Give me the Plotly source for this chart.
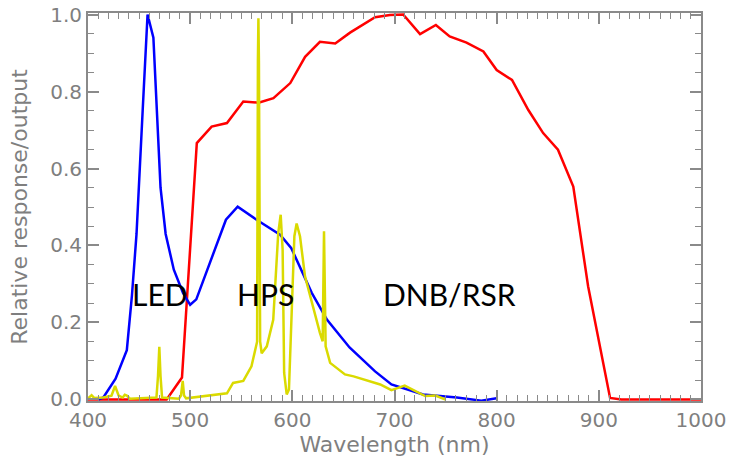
import plotly.graph_objects as go

# LED spectrum (blue)
led_wl = [410, 415, 427, 438, 443, 447.5, 453.5, 458.3, 464, 471, 476, 484, 493, 500, 506, 519, 535, 546.5,
          565, 588, 599, 619, 634, 656, 681, 697, 728, 761, 785, 800]
led_val = [0.0, 0.005, 0.054, 0.128, 0.27, 0.43, 0.75, 1.0, 0.94, 0.55, 0.43, 0.337, 0.277, 0.246, 0.26,
           0.355, 0.467, 0.501, 0.467, 0.428, 0.393, 0.277, 0.207, 0.135, 0.073, 0.039, 0.013, 0.005, -0.003, 0.003]

# DNB/RSR response (red)
dnb_wl = [400, 477, 492, 506.5, 521, 536, 552, 567, 581.5, 598, 612.5, 627, 642, 656.5, 681, 695.5, 708.5,
          725, 740.5, 754, 770.5, 787, 800, 815, 831, 845.5, 860, 875, 889.5, 911, 922, 1000]
dnb_val = [0.0, 0.0, 0.057, 0.666, 0.709, 0.718, 0.774, 0.771, 0.783, 0.822, 0.89, 0.929, 0.925, 0.953, 0.993,
           0.999, 1.0, 0.949, 0.973, 0.943, 0.927, 0.904, 0.856, 0.83, 0.752, 0.692, 0.649, 0.553, 0.294, 0.004,
           0.0, 0.0]

# HPS spectrum (yellow)
hps_wl = [400, 403.5, 406, 415, 423, 426.5, 430, 434, 436, 438, 441, 455, 467, 468.5, 469.8, 471, 472.5,
          489, 491, 492.7, 494, 496, 510, 536, 542, 552, 560, 565.5, 566.3, 566.8, 567.3, 568.5, 570, 575,
          581.3, 586.2, 588.6, 590.5, 592, 594.5, 596.7, 599.4, 602, 604.2, 607.5, 612.4, 619, 627, 629.7,
          631, 632.6, 637, 651.5, 660, 686, 697, 710, 730, 740, 750]
hps_val = [0.003, 0.011, 0.004, 0.005, 0.01, 0.035, 0.01, 0.005, 0.012, 0.01, 0.002, 0.004, 0.005, 0.06,
           0.137, 0.06, 0.005, 0.002, 0.01, 0.048, 0.01, 0.003, 0.007, 0.016, 0.043, 0.048, 0.086, 0.15, 0.88,
           0.99, 0.88, 0.15, 0.12, 0.138, 0.207, 0.432, 0.48, 0.389, 0.069, 0.013, 0.026, 0.26, 0.424, 0.457,
           0.424, 0.32, 0.25, 0.173, 0.151, 0.437, 0.138, 0.095, 0.065, 0.06, 0.039, 0.024, 0.036, 0.009, 0.01,
           0.0]

labels = ["LED", "HPS", "DNB/RSR"]
label_x = [470.5, 573.7, 754.3]
label_y = [0.275, 0.275, 0.275]

fig = go.Figure()
fig.add_trace(go.Scatter(x=dnb_wl, y=dnb_val, mode="lines", line=dict(color="#FF0000", width=2.5)))
fig.add_trace(go.Scatter(x=led_wl, y=led_val, mode="lines", line=dict(color="#0000FF", width=2.5)))
fig.add_trace(go.Scatter(x=hps_wl, y=hps_val, mode="lines", line=dict(color="#DADA00", width=2.5)))

for t, xx, yy in zip(labels, label_x, label_y):
    fig.add_annotation(x=xx, y=yy, text=t, showarrow=False,
                       font=dict(family="Lato", size=30, color="black"))

axis_gray = "#8a8a8a"
text_gray = "#7f7f7f"
fig.update_layout(
    width=740, height=462,
    margin=dict(l=88, r=39, t=13, b=61, autoexpand=False),
    paper_bgcolor="white", plot_bgcolor="white",
    showlegend=False,
    font=dict(family="DejaVu Sans", color=text_gray),
)
fig.update_xaxes(
    range=[400, 1000], dtick=100, tick0=400, automargin=False, ticklabeloverflow="allow",
    showgrid=False, zeroline=False,
    showline=True, linecolor=axis_gray, linewidth=2, mirror="ticks",
    ticks="inside", ticklen=11, tickcolor=axis_gray, tickwidth=1.5,
    minor=dict(ticks="inside", dtick=10, ticklen=6, tickcolor=axis_gray, tickwidth=1.2, showgrid=False),
    tickfont=dict(family="DejaVu Sans", size=20, color=text_gray),
    title=dict(text="Wavelength (nm)", font=dict(family="DejaVu Sans", size=22, color=text_gray), standoff=4),
)
fig.update_yaxes(
    range=[-0.004, 1.004], dtick=0.2, tick0=0, tickformat=".1f", automargin=False, ticklabeloverflow="allow",
    showgrid=False, zeroline=False,
    showline=True, linecolor=axis_gray, linewidth=2, mirror="ticks",
    ticks="inside", ticklen=11, tickcolor=axis_gray, tickwidth=1.5,
    minor=dict(ticks="inside", dtick=0.05, ticklen=6, tickcolor=axis_gray, tickwidth=1.2, showgrid=False),
    tickfont=dict(family="DejaVu Sans", size=20, color=text_gray),
    title=dict(text="Relative response/output", font=dict(family="DejaVu Sans", size=22, color=text_gray), standoff=16),
)

fig.write_html("out.html", config={"displayModeBar": False},
               post_script="document.body.style.margin='0';")
